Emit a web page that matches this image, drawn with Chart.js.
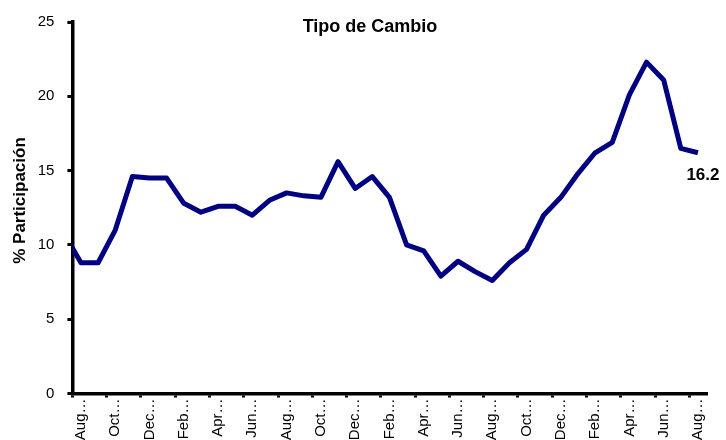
<!DOCTYPE html>
<html>
<head>
<meta charset="utf-8">
<script src="https://cdn.jsdelivr.net/npm/chart.js@4"></script>
<style>
  html, body { margin: 0; padding: 0; background: #fff; }
  canvas { display: block; }
</style>
</head>
<body>
<canvas id="chart" width="726" height="440"></canvas>
<script>
// first entry (Jul) sits just left of the axis and is only seen as the clipped start of the line
const months = [
  'Jul…',
  'Aug…', 'Sep…', 'Oct…', 'Nov…', 'Dec…', 'Jan…', 'Feb…', 'Mar…', 'Apr…', 'May…', 'Jun…', 'Jul…',
  'Aug…', 'Sep…', 'Oct…', 'Nov…', 'Dec…', 'Jan…', 'Feb…', 'Mar…', 'Apr…', 'May…', 'Jun…', 'Jul…',
  'Aug…', 'Sep…', 'Oct…', 'Nov…', 'Dec…', 'Jan…', 'Feb…', 'Mar…', 'Apr…', 'May…', 'Jun…', 'Jul…',
  'Aug…'
];
const participation = [
  10.8,
  8.8, 8.8, 11.0, 14.6, 14.5, 14.5, 12.8, 12.2, 12.6, 12.6, 12.0, 13.0,
  13.5, 13.3, 13.2, 15.6, 13.8, 14.6, 13.2, 10.0, 9.6, 7.9, 8.9, 8.2,
  7.6, 8.8, 9.7, 12.0, 13.2, 14.8, 16.2, 16.9, 20.1, 22.3, 21.1, 16.5,
  16.2
];
const yMin = 0;
const yMax = 25;
const yStep = 5;
const chartTitle = 'Tipo de Cambio';
const yTitle = '% Participación';

const FONT = "'Liberation Sans', Arial, sans-serif";

const overlayText = {
  id: 'overlayText',
  afterDraw(chart) {
    const ctx = chart.ctx;
    ctx.save();
    ctx.fillStyle = '#000';
    ctx.textAlign = 'center';
    ctx.textBaseline = 'middle';
    ctx.font = 'bold 18px ' + FONT;
    ctx.fillText(chartTitle, 370, 27);

    // value label under the last point
    const meta = chart.getDatasetMeta(0);
    const last = meta.data[meta.data.length - 1];
    ctx.font = 'bold 17px ' + FONT;
    ctx.fillText(participation[participation.length - 1].toFixed(1), last.x + 5, last.y + 23);

    // y axis title, drawn by hand so it sits where the original has it
    ctx.font = 'bold 17px ' + FONT;
    ctx.translate(20, 200.5);
    ctx.rotate(-Math.PI / 2);
    ctx.fillText(yTitle, 0, 0);
    ctx.restore();
  }
};

new Chart(document.getElementById('chart'), {
  type: 'line',
  data: {
    labels: months,
    datasets: [{
      data: participation,
      borderColor: '#000080',
      borderWidth: 5,
      pointRadius: 0,
      tension: 0,
      clip: 0,
      borderJoinStyle: 'round'
    }]
  },
  options: {
    responsive: false,
    animation: false,
    events: [],
    layout: { padding: { top: 18.3, right: 19.5, bottom: 0, left: 0 } },
    plugins: {
      legend: { display: false },
      tooltip: { enabled: false }
    },
    scales: {
      x: {
        type: 'category',
        min: 1,
        offset: true,
        afterFit: (scale) => { scale.height = 46.5; },
        border: { color: '#000', width: 3.5 },
        grid: {
          offset: true,
          drawOnChartArea: false,
          drawTicks: true,
          tickLength: 4,
          lineWidth: 3,
          color: (c) => (c.index % 2 === 0 ? '#000' : 'rgba(0,0,0,0)')
        },
        ticks: {
          autoSkip: false,
          maxRotation: 90,
          minRotation: 90,
          padding: 1,
          color: '#000',
          font: { family: FONT, size: 15 },
          callback: (value, index) => (index % 2 === 0 ? months[value] : '')
        }
      },
      y: {
        min: yMin,
        max: yMax,
        afterFit: (scale) => { scale.width = 72.4; },
        border: { color: '#000', width: 3.5 },
        grid: {
          drawOnChartArea: false,
          drawTicks: true,
          tickLength: 5,
          lineWidth: 3,
          color: '#000'
        },
        ticks: {
          stepSize: yStep,
          padding: 13,
          color: '#000',
          font: { family: FONT, size: 15 }
        }
      }
    }
  },
  plugins: [overlayText]
});
</script>
</body>
</html>
